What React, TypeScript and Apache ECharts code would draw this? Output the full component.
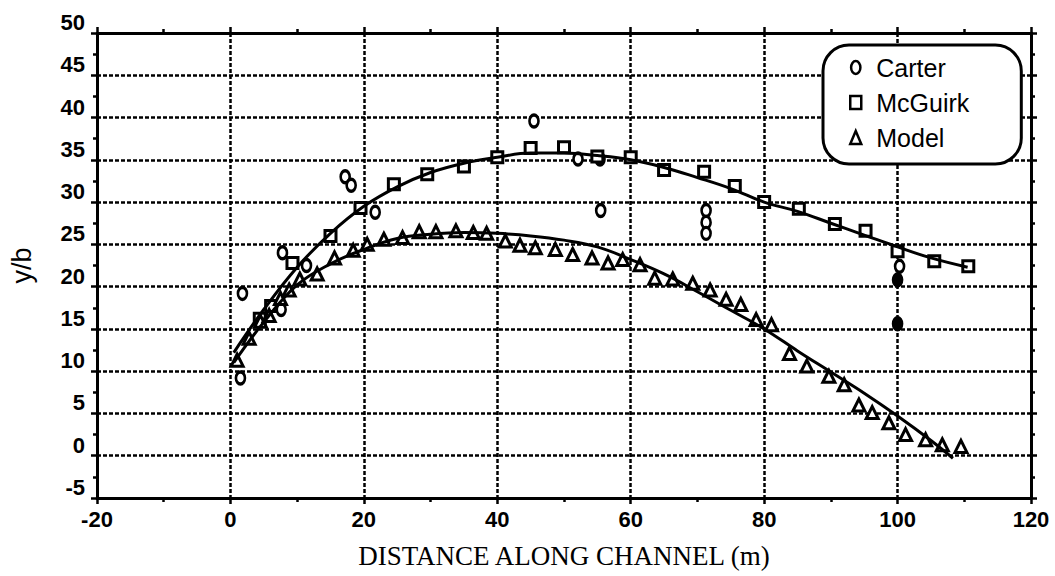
import React, { useEffect, useRef } from "react";
import * as echarts from "echarts";

// ---- data ----
const xTickMin = -20;
const xTickMax = 120;
const xTickStep = 20;
const yTickMin = -5;
const yTickMax = 50;
const yTickStep = 5;

const seriesNames = ["Carter", "McGuirk", "Model"];

const carterX = [1.5, 1.8, 7.6, 7.8, 11.4, 17.2, 18.1, 21.7, 45.5, 52.1, 55.4, 55.5, 71.3, 71.3, 71.3, 100.3, 100, 100];
const carterY = [9.2, 19.2, 17.3, 24, 22.5, 33, 32, 28.8, 39.6, 35.1, 35.1, 29, 29, 27.6, 26.3, 22.4, 20.8, 15.6];
const carterFilled = [false, false, false, false, false, false, false, false, false, false, true, false, false, false, false, false, true, true];

const mcguirkX = [4.4, 6.1, 9.3, 15, 19.5, 24.5, 29.5, 35, 40, 45, 50, 55, 60, 65, 71, 75.6, 80, 85.2, 90.6, 95.2, 100, 105.5, 110.6];
const mcguirkY = [16.2, 17.7, 22.8, 26.0, 29.3, 32.1, 33.3, 34.2, 35.3, 36.4, 36.5, 35.4, 35.3, 33.8, 33.6, 31.9, 30.0, 29.2, 27.4, 26.6, 24.2, 23.0, 22.4];

const modelX = [1, 2.8, 4.5, 5.8, 7.5, 8.8, 10.4, 13, 15.6, 18.4, 20.5, 23, 25.8, 28.3, 30.8, 33.8, 36.4, 38.4, 41.2, 43.4, 45.7, 48.7, 51.3, 54.2, 56.6, 58.8, 61.4, 63.6, 66.3, 69.3, 71.9, 74.3, 76.5, 78.8, 81.1, 83.8, 86.4, 89.7, 92, 94.2, 96.2, 98.7, 101.2, 104.2, 106.7, 109.5];
const modelY = [11.3, 13.9, 15.9, 16.6, 18.6, 19.6, 20.9, 21.5, 23.4, 24.3, 25, 25.6, 25.8, 26.5, 26.5, 26.6, 26.4, 26.3, 25.4, 24.9, 24.6, 24.4, 23.8, 23.4, 22.8, 23.2, 22.6, 21, 20.9, 20.4, 19.6, 18.5, 17.9, 16.1, 15.5, 12.1, 10.6, 9.4, 8.4, 6.0, 5.1, 3.9, 2.5, 1.9, 1.3, 1.1];

const mcguirkFitX = [0.5, 5, 10, 15, 20, 25, 30, 35, 40, 45, 50, 55, 60, 65, 70, 75, 80, 85, 90, 95, 100, 105, 110.5];
const mcguirkFitY = [12.2, 17.3, 22.3, 26.3, 29.5, 31.8, 33.5, 34.6, 35.3, 35.8, 35.8, 35.5, 35.0, 34.1, 32.9, 31.6, 30.0, 28.9, 27.5, 26.1, 24.7, 23.4, 22.3];

const modelFitX = [0.5, 5, 10, 15, 20, 25, 30, 35, 40, 45, 50, 55, 60, 65, 70, 75, 80, 85, 90, 95, 100, 105, 108.3];
const modelFitY = [11, 15.8, 20.2, 22.7, 24.4, 25.7, 26.2, 26.4, 26.3, 26.0, 25.5, 24.7, 23.2, 21.5, 19.4, 17.2, 15.0, 12.4, 9.9, 7.4, 4.7, 1.8, -0.3];

const ellipsePath = "path://M5,0A5,7,0,1,1,5,14A5,7,0,1,1,5,0Z";

export default function App() {
  const ref = useRef<HTMLDivElement>(null);

  useEffect(() => {
    const chart = echarts.init(ref.current as HTMLDivElement, null, { renderer: "svg" });

    const tickFont = {
      fontFamily: "Liberation Sans",
      fontWeight: "bold" as const,
      fontSize: 22,
      color: "#000",
    };
    const axisLine = { show: true, onZero: false, lineStyle: { color: "#000", width: 3 } };
    const axisTick = { show: true, inside: false, length: 6, lineStyle: { color: "#000", width: 2.5 } };
    const minorTick = { show: true, splitNumber: 2, length: 4, lineStyle: { color: "#000", width: 2.5 } };
    const splitLine = { show: true, lineStyle: { color: "#000", width: 2.5, type: [4, 2] } };
    const markerStyle = { color: "#fff", borderColor: "#000", borderWidth: 3, opacity: 1 };

    const option = {
      animation: false,
      backgroundColor: "#fff",
      grid: { left: 97, top: 33, right: 24, bottom: 78 },
      legend: {
        data: seriesNames,
        orient: "vertical",
        left: 823,
        top: 45,
        padding: [10, 52, 14, 26],
        itemWidth: 11,
        itemHeight: 13,
        itemGap: 10,
        backgroundColor: "#fff",
        borderColor: "#000",
        borderWidth: 3,
        borderRadius: 26,
        itemStyle: { opacity: 1, borderWidth: 2.5 },
        textStyle: {
          fontFamily: "Liberation Sans",
          fontSize: 25,
          color: "#000",
          padding: [0, 0, 0, 10],
        },
      },
      xAxis: [
        {
          type: "value",
          min: xTickMin,
          max: xTickMax,
          interval: xTickStep,
          position: "bottom",
          axisLine,
          axisTick,
          minorTick,
          axisLabel: { ...tickFont, margin: 10 },
          splitLine,
          name: "DISTANCE ALONG CHANNEL (m)",
          nameLocation: "middle",
          nameGap: 44,
          nameTextStyle: { fontFamily: "Liberation Serif", fontSize: 27, color: "#000" },
        },
        {
          type: "value",
          min: xTickMin,
          max: xTickMax,
          interval: xTickStep,
          position: "top",
          axisLine,
          axisTick,
          minorTick,
          axisLabel: { show: false },
          splitLine: { show: false },
        },
      ],
      yAxis: [
        {
          type: "value",
          min: yTickMin,
          max: yTickMax,
          interval: yTickStep,
          position: "left",
          axisLine,
          axisTick,
          minorTick,
          axisLabel: { ...tickFont, margin: 12, verticalAlign: "bottom", lineHeight: 21 },
          splitLine,
          name: "y/b",
          nameLocation: "middle",
          nameGap: 62,
          nameRotate: 90,
          nameTextStyle: { fontFamily: "Liberation Sans", fontSize: 27, color: "#000" },
        },
        {
          type: "value",
          min: yTickMin,
          max: yTickMax,
          interval: yTickStep,
          position: "right",
          axisLine,
          axisTick,
          minorTick,
          axisLabel: { show: false },
          splitLine: { show: false },
        },
      ],
      series: [
        {
          name: seriesNames[0],
          type: "scatter",
          symbol: ellipsePath,
          symbolSize: [9, 12],
          itemStyle: markerStyle,
          z: 3,
          data: carterX.map((x, i) => ({
            value: [x, carterY[i]],
            itemStyle: carterFilled[i] ? { color: "#000" } : undefined,
          })),
        },
        {
          name: seriesNames[1],
          type: "scatter",
          symbol: "rect",
          symbolSize: 11,
          itemStyle: markerStyle,
          z: 3,
          data: mcguirkX.map((x, i) => [x, mcguirkY[i]]),
        },
        {
          name: seriesNames[2],
          type: "scatter",
          symbol: "triangle",
          symbolSize: [12, 12],
          itemStyle: markerStyle,
          z: 3,
          data: modelX.map((x, i) => [x, modelY[i]]),
        },
        {
          name: "McGuirk fit",
          type: "line",
          smooth: 0.4,
          symbol: "none",
          z: 4,
          lineStyle: { color: "#000", width: 3 },
          data: mcguirkFitX.map((x, i) => [x, mcguirkFitY[i]]),
        },
        {
          name: "Model fit",
          type: "line",
          smooth: 0.4,
          symbol: "none",
          z: 4,
          lineStyle: { color: "#000", width: 3 },
          data: modelFitX.map((x, i) => [x, modelFitY[i]]),
        },
      ],
    };

    chart.setOption(option as any);
    return () => chart.dispose();
  }, []);

  return (
    <div
      ref={ref}
      style={{ position: "fixed", left: 0, top: 0, width: 1055, height: 576, background: "#fff" }}
    />
  );
}
